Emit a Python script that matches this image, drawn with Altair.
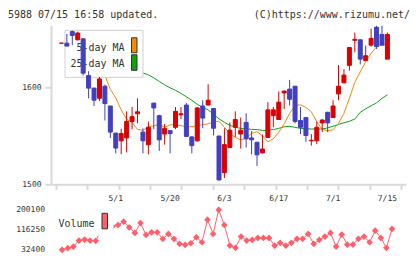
import altair as alt
import pandas as pd

# ---------------- data ----------------
idx = list(range(1, 62))
opens = [1646, 1646, 1658, 1649.5, 1650.5, 1612.5, 1599.5, 1589, 1601.5, 1581,
         1553, 1545, 1548, 1565, 1573, 1554, 1541, 1584, 1571, 1552,
         1555.5, 1559, 1572, 1582, 1549, 1545, 1581, 1582, 1578.5, 1550,
         1512, 1538, 1559, 1552, 1564, 1548, 1543.5, 1532.5, 1548.5, 1571,
         1567, 1594.5, 1598.5, 1601.5, 1566, 1569, 1545, 1545, 1563.5, 1574.5,
         1569, 1593.5, 1605, 1623, 1649, 1649.5, 1628, 1644, 1662.5, 1655, 1629.5]
highs = [1646, 1655.5, 1659, 1658, 1651, 1617, 1600, 1611, 1603, 1581,
         1553, 1557.5, 1575.5, 1580, 1589, 1558, 1565, 1584, 1572, 1562.5,
         1556, 1580, 1580, 1584, 1550, 1580, 1587, 1603.5, 1579, 1550,
         1558, 1564, 1575.5, 1569, 1573.5, 1555, 1544, 1551.5, 1585, 1580,
         1596, 1597, 1608, 1601.5, 1580, 1569.5, 1552, 1565, 1567.5, 1575,
         1587, 1623.5, 1619, 1642, 1657, 1650, 1643.5, 1661, 1664, 1664, 1657]
lows = [1646, 1643, 1644, 1649, 1612.5, 1589, 1581, 1586, 1566, 1548,
        1532, 1531, 1533, 1557, 1563, 1532, 1531, 1557, 1534.5, 1541,
        1532, 1557, 1567.5, 1549, 1532, 1544, 1558, 1582, 1550.5, 1504,
        1506.5, 1538, 1549, 1537, 1538, 1531, 1519, 1532, 1548, 1559,
        1567, 1578, 1581.5, 1563, 1552, 1544, 1540, 1541.5, 1554, 1554,
        1569, 1587, 1605, 1617.5, 1636.5, 1624, 1628, 1642.5, 1640, 1644, 1629.5]
closes = [1646, 1643, 1654, 1656.5, 1615, 1599.5, 1587, 1609, 1583.5, 1554,
          1537.5, 1552.5, 1565, 1570, 1575, 1545, 1559, 1579, 1546, 1558,
          1552.5, 1575.5, 1573, 1549.5, 1540, 1579, 1568.5, 1587, 1558, 1504.5,
          1541, 1556, 1567, 1556, 1547, 1546, 1530.5, 1536.5, 1577, 1577,
          1585, 1596.5, 1588, 1565, 1559, 1550.5, 1545.5, 1559, 1566.5, 1563.5,
          1581, 1601.5, 1613, 1641.5, 1650, 1629.5, 1633, 1651, 1642.5, 1644, 1655]
ma5 = [None, 1641.2, 1641.7, 1642.7, 1643.7, 1641.0, 1633.8, 1622.4, 1612.7, 1598.2,
       1589.5, 1577.0, 1567.2, 1564.1, 1556.9, 1555.8, 1559.5, 1560.5, 1562.0, 1558.9,
       1561.5, 1561.5, 1560.7, 1559.5, 1559.7, 1560.7, 1561.5, 1562.6, 1564.4, 1565.2,
       1558.9, 1552.7, 1548.6, 1546.0, 1547.6, 1552.7, 1554.5, 1550.2, 1543.9, 1547.1,
       1553.8, 1562.6, 1573.4, 1581.7, 1582.2, 1579.6, 1575.0, 1564.6, 1556.9, 1555.5,
       1556.4, 1563.1, 1573.4, 1588.9, 1605.5, 1616.3, 1626.7, 1635.5, 1642.2, 1644.3, 1643.7]
ma25 = [None, 1641.2, 1640.1, 1638.6, 1637.0, 1635.5, 1633.4, 1631.3, 1629.3, 1627.2,
        1625.2, 1623.1, 1621.0, 1618.9, 1616.9, 1615.3, 1613.2, 1610.1, 1606.5, 1602.9,
        1599.8, 1597.2, 1594.1, 1590.5, 1586.9, 1582.8, 1579.6, 1577.0, 1572.4, 1567.7,
        1564.1, 1561.0, 1558.9, 1557.9, 1557.2, 1556.9, 1556.6, 1555.8, 1555.8, 1556.6,
        1557.9, 1559.5, 1560.0, 1558.9, 1557.9, 1557.4, 1557.2, 1557.2, 1557.2, 1558.4,
        1560.0, 1562.0, 1563.6, 1565.2, 1567.5, 1574.5, 1578.1, 1581.2, 1584.3, 1588.9, 1592.6]
volume = [None, 32400, 39100, 46100, 71100, 75300, 71100, 69850, 120000, 135000,
          130000, 136400, 150200, 126400, 103100, 144700, 94800, 105600, 105600, 78200,
          99000, 78200, 57400, 53200, 59900, 84800, 64000, 158500, 99000, 200100,
          136400, 50300, 40700, 87700, 71100, 74000, 82300, 82300, 82300, 50300,
          61500, 50300, 61500, 78200, 78200, 99000, 57400, 74000, 87700, 103100,
          46100, 96100, 54500, 54500, 78200, 87700, 64000, 112700, 82300, 40700, 119800]

label_idx = [11, 21, 31, 41, 51, 61]
label_text = ["5/1", "5/20", "6/3", "6/17", "7/1", "7/15"]
price_ticks = [1500, 1600]
vol_ticks = [32400, 116250, 200100]
header_left = "5988 07/15 16:58 updated."
header_right = "(C)https://www.rizumu.net/"

# ---------------- style ----------------
RED = "#d80000"
BLUE = "#4040c0"
ORANGE = "#f28a0c"
GREEN = "#12a012"
VOLC = "#ff5f6a"
AXC = "#d9d9d9"
TXT = "#333333"
FONT = "DejaVu Sans Mono"

W, H, VH = 355, 159, 40
xdom = [0, 63.5]

df = pd.DataFrame({"i": idx, "open": opens, "high": highs, "low": lows, "close": closes})
df["dir"] = ["up" if c >= o else "down" for o, c in zip(opens, closes)]
df_ma = pd.DataFrame({"i": idx, "ma5": ma5, "ma25": ma25}).dropna()
df_vol = pd.DataFrame({"i": idx, "vol": volume}).dropna()
df_lab = pd.DataFrame({"i": label_idx, "t": label_text})

xscale = alt.Scale(domain=xdom, nice=False, zero=False)
tick_vals = [xdom[1] * k / 11 for k in range(12)]
xaxis = alt.Axis(values=tick_vals, labels=False, grid=False, tickSize=5, tickColor=AXC,
                 tickWidth=2, domainColor=AXC, domainWidth=2, title=None)
yscale = alt.Scale(domain=[1500, 1664.5], nice=False, zero=False)
yaxis = alt.Axis(values=price_ticks, grid=False, tickSize=6, tickColor=AXC, tickWidth=2,
                 domainColor=AXC, domainWidth=2, labelFont=FONT, labelFontSize=8,
                 labelColor=TXT, labelPadding=4, format="d", title=None)
X = alt.X("i:Q", scale=xscale, axis=xaxis)
cscale = alt.Scale(domain=["up", "down"], range=[RED, BLUE])

one = pd.DataFrame({"a": [0]})

ma25_line = alt.Chart(df_ma).mark_line(color=GREEN, strokeWidth=1).encode(
    x=X, y=alt.Y("ma25:Q", scale=yscale, axis=yaxis))
ma5_line = alt.Chart(df_ma).mark_line(color=ORANGE, strokeWidth=1).encode(
    x=X, y=alt.Y("ma5:Q", scale=yscale, axis=yaxis))

leg_box = alt.Chart(one).mark_rect(fill="white", stroke="#d0d0d0", strokeWidth=1).encode(
    x=alt.value(14), x2=alt.value(92), y=alt.value(5), y2=alt.value(52))
leg_t1 = alt.Chart(pd.DataFrame({"t": ["5-day MA"]})).mark_text(
    align="right", baseline="alphabetic", font=FONT, fontSize=10, color=TXT).encode(
    x=alt.value(73.5), y=alt.value(25.5), text="t:N")
leg_t2 = alt.Chart(pd.DataFrame({"t": ["25-day MA"]})).mark_text(
    align="right", baseline="alphabetic", font=FONT, fontSize=10, color=TXT).encode(
    x=alt.value(73.5), y=alt.value(42.2), text="t:N")
leg_s1 = alt.Chart(one).mark_rect(fill=ORANGE, stroke="#333", strokeWidth=1).encode(
    x=alt.value(80.5), x2=alt.value(86), y=alt.value(12.5), y2=alt.value(27.5))
leg_s2 = alt.Chart(one).mark_rect(fill=GREEN, stroke="#333", strokeWidth=1).encode(
    x=alt.value(80.5), x2=alt.value(86), y=alt.value(29.5), y2=alt.value(45))

wick = alt.Chart(df).mark_rule(strokeWidth=1).encode(
    x=X, y=alt.Y("low:Q", scale=yscale, axis=yaxis), y2="high:Q",
    color=alt.Color("dir:N", scale=cscale, legend=None))
body = alt.Chart(df).mark_bar(size=4, strokeWidth=1).encode(
    x=X, y=alt.Y("open:Q", scale=yscale, axis=yaxis), y2="close:Q",
    color=alt.Color("dir:N", scale=cscale, legend=None),
    stroke=alt.Stroke("dir:N", scale=cscale, legend=None))

hdr_l = alt.Chart(pd.DataFrame({"t": [header_left]})).mark_text(
    align="left", baseline="alphabetic", font=FONT, fontSize=10, color=TXT).encode(
    x=alt.value(-43), y=alt.value(-7.7), text="t:N")
hdr_r = alt.Chart(pd.DataFrame({"t": [header_right]})).mark_text(
    align="right", baseline="alphabetic", font=FONT, fontSize=10, color=TXT).encode(
    x=alt.value(359), y=alt.value(-7.7), text="t:N")
dlabels = alt.Chart(df_lab).mark_text(
    align="center", baseline="alphabetic", font=FONT, fontSize=8, color=TXT).encode(
    x=X, y=alt.value(H + 16.7), text="t:N")

top = alt.layer(ma25_line, ma5_line, leg_box, leg_t1, leg_t2, leg_s1, leg_s2,
                wick, body, hdr_l, hdr_r, dlabels).properties(width=W, height=H)

vscale = alt.Scale(domain=[32400, 200100], nice=False, zero=False)
vaxis = alt.Axis(values=vol_ticks, grid=False, ticks=False, domain=False, labelFont=FONT,
                 labelFontSize=8, labelColor=TXT, labelPadding=6.5, format="d", title=None)
VX = alt.X("i:Q", scale=xscale, axis=None)
vline = alt.Chart(df_vol).mark_line(color=VOLC, strokeWidth=1).encode(
    x=VX, y=alt.Y("vol:Q", scale=vscale, axis=vaxis))
vpts = alt.Chart(df_vol).mark_point(shape="diamond", filled=True, size=45, color=VOLC,
                                    opacity=1).encode(
    x=VX, y=alt.Y("vol:Q", scale=vscale, axis=vaxis))
vbox = alt.Chart(one).mark_rect(fill="white").encode(
    x=alt.value(4), x2=alt.value(62.5), y=alt.value(-2), y2=alt.value(26))
vtext = alt.Chart(pd.DataFrame({"t": ["Volume"]})).mark_text(
    align="right", baseline="alphabetic", font=FONT, fontSize=10, color=TXT).encode(
    x=alt.value(43.5), y=alt.value(17), text="t:N")
vsw = alt.Chart(one).mark_rect(fill=VOLC, stroke="#333", strokeWidth=1).encode(
    x=alt.value(51), x2=alt.value(56.5), y=alt.value(3.5), y2=alt.value(19))

bottom = alt.layer(vline, vpts, vbox, vtext, vsw).properties(width=W, height=VH)

chart = alt.vconcat(top, bottom, spacing=2.5).properties(
    padding={"left": 8, "top": 9.3, "right": 5, "bottom": 5},
    background="white",
).configure_view(strokeWidth=0)

chart.save("out.html", embed_options={"renderer": "svg", "actions": False})
